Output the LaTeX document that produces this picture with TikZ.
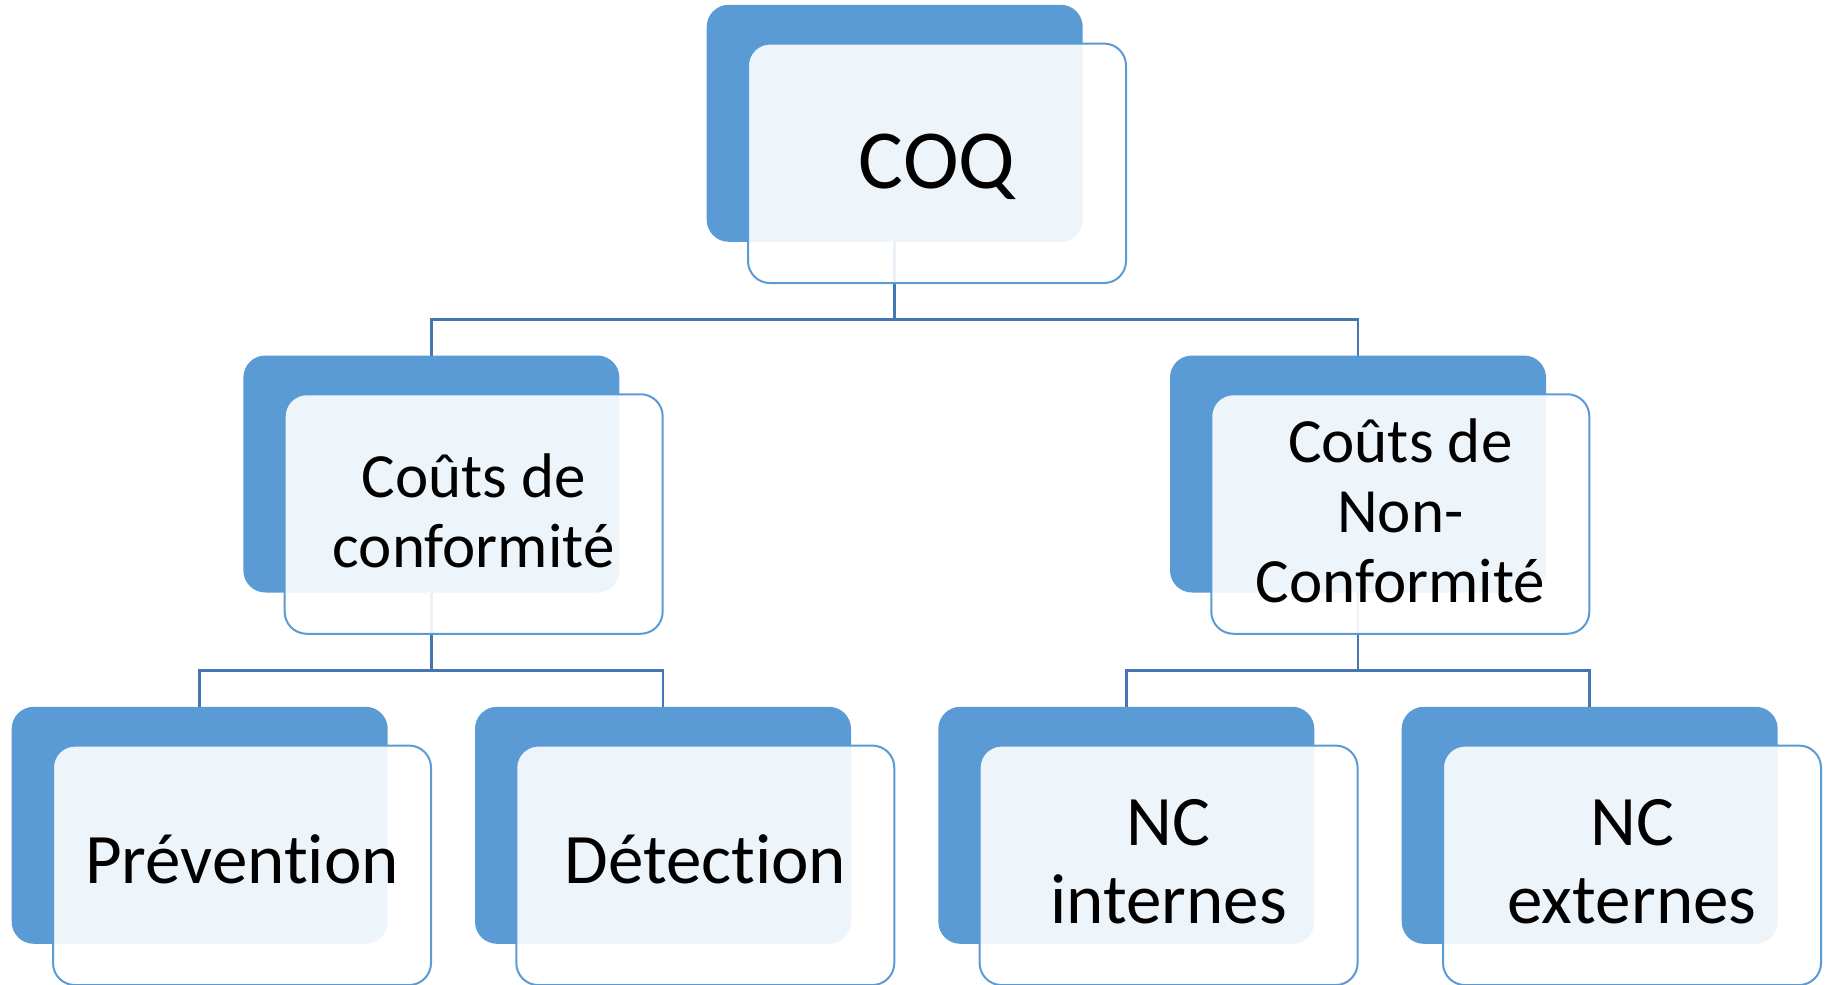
\documentclass[tikz,border=0pt]{standalone}
\usepackage{fontspec}
\setmainfont{Carlito}[Ligatures={NoCommon,NoContextual}]
\definecolor{accblue}{RGB}{91,155,213}
\definecolor{connblue}{RGB}{70,118,178}
\pgfdeclarelayer{bg}
\pgfsetlayers{bg,main}
\tikzset{
  backbox/.style={draw=none, fill=accblue, rounded corners=22pt, minimum width=376pt, minimum height=237pt, inner sep=0pt, outer sep=0pt},
  frontbox/.style={draw=accblue, line width=2pt, fill=white, fill opacity=0.9, draw opacity=1, text opacity=1, rounded corners=22pt, minimum width=378pt, minimum height=239.5pt, inner sep=0pt, outer sep=0pt, align=center, text=black},
  conn/.style={draw=connblue, line width=2.5pt},
  fone/.style={font=\fontsize{84}{92}\selectfont, text depth=4pt},
  ftwo/.style={font=\fontsize{63}{70}\selectfont, text depth=7pt},
  fthree/.style={font=\fontsize{71}{78}\selectfont, text depth=13pt},
  fthreeb/.style={font=\fontsize{71}{78}\selectfont, text depth=7pt}
}
\begin{document}
\begin{tikzpicture}[x=1pt,y=-1pt]
\useasboundingbox (0,0) rectangle (1829,985);
% level 1
\node[backbox] (b1) at (894.7,123.3) {};
\node[frontbox,fone] (f1) at ([shift={(42.3,40)}]b1.center) {COQ};
% level 2
\node[backbox] (b2l) at (431.35,474) {};
\node[frontbox,ftwo] (f2l) at ([shift={(42.3,40)}]b2l.center) {Coûts de\\conformité};
\node[backbox] (b2r) at (1358,474) {};
\node[frontbox,ftwo] (f2r) at ([shift={(42.3,40)}]b2r.center) {Coûts de\\Non-\\Conformité};
% level 3
\node[backbox] (b3a) at (199.7,825.3) {};
\node[frontbox,fthree] (f3a) at ([shift={(42.3,40)}]b3a.center) {Prévention};
\node[backbox] (b3b) at (663,825.3) {};
\node[frontbox,fthree] (f3b) at ([shift={(42.3,40)}]b3b.center) {Détection};
\node[backbox] (b3c) at (1126.3,825.3) {};
\node[frontbox,fthreeb] (f3c) at ([shift={(42.3,40)}]b3c.center) {NC\\internes};
\node[backbox] (b3d) at (1589.7,825.3) {};
\node[frontbox,fthreeb] (f3d) at ([shift={(42.3,40)}]b3d.center) {NC\\externes};
% connectors
\coordinate (j1) at (894.7,319.7);
\coordinate (j2l) at (431.35,670.7);
\coordinate (j2r) at (1358,670.7);
\begin{pgfonlayer}{bg}
\draw[conn] (b1.south) -- (j1);
\draw[conn] (b2l.north) |- (j1) -| (b2r.north);
\draw[conn] (b2l.south) -- (j2l);
\draw[conn] (b3a.north) |- (j2l) -| (b3b.north);
\draw[conn] (b2r.south) -- (j2r);
\draw[conn] (b3c.north) |- (j2r) -| (b3d.north);
\end{pgfonlayer}
\end{tikzpicture}
\end{document}
